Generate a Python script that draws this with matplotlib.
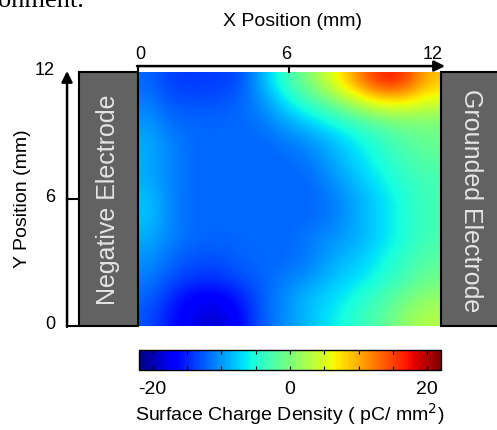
import numpy as np
import matplotlib.pyplot as plt
from matplotlib.patches import Rectangle

plt.rcParams['font.family'] = ['Liberation Sans', 'DejaVu Sans']

# surface charge density (pC/mm^2), rows from y=12 (top) down to y=0, cols x=0..12
charge = np.array([
    [-12, -14, -14, -14, -13,  -8,  -3,   1,   6,  12,  17,  16,   9],
    [-11, -13, -13, -13, -12, -10,  -6,  -3,   0,   4,   7,   7,   5],
    [-10, -12, -12, -12, -12, -11,  -9,  -7,  -5,  -3,  -1,   0,   0],
    [ -9, -11, -12, -12, -12, -12, -11, -10,  -8,  -6,  -4,  -2,  -1],
    [ -9, -11, -12, -12, -12, -12, -12, -11,  -9,  -7,  -5,  -3,  -2],
    [ -9, -11, -12, -12, -12, -12, -12, -12, -10,  -8,  -6,  -4,  -3],
    [ -8, -11, -12, -12, -12, -12, -12, -12, -11,  -9,  -7,  -5,  -3],
    [ -8, -11, -12, -12, -12, -12, -12, -12, -11,  -9,  -7,  -5,  -3],
    [ -9, -11, -12, -12, -12, -12, -12, -11, -10,  -9,  -7,  -5,  -3],
    [-10, -12, -13, -13, -12, -12, -12, -11,  -9,  -8,  -6,  -4,  -2],
    [-11, -13, -14, -14, -13, -12, -11, -10,  -8,  -7,  -5,  -3,  -1],
    [-12, -15, -17, -17, -15, -12, -10,  -8,  -7,  -5,  -3,  -1,   1],
    [-13, -16, -18, -19, -16, -12, -10,  -8,  -6,  -4,  -2,   1,   3],
])
x_ticks = [0, 6, 12]
y_ticks = [0, 6, 12]
cbar_ticks = [-20, -15, -10, -5, 0, 5, 10, 15, 20]
cbar_labels = ['-20', '', '', '', '0', '', '', '', '20']
vmin, vmax = -22, 22

fig = plt.figure(figsize=(4.97, 4.30), dpi=100)
ax = fig.add_axes([138/497, 104/430, 302/497, 254/430])
im = ax.imshow(charge, cmap='jet', vmin=vmin, vmax=vmax, extent=(0, 12, 0, 12),
               aspect='auto', interpolation='bicubic', origin='upper')
ax.set_xlim(0, 12)
ax.set_ylim(0, 12)
ax.axis('off')

# electrodes
ax.add_patch(Rectangle((-2.34, 0), 2.34, 12, facecolor='#626262', edgecolor='k',
                       lw=1.5, clip_on=False, zorder=3))
ax.add_patch(Rectangle((12.04, 0), 2.6, 12, facecolor='#626262', edgecolor='k',
                       lw=1.5, clip_on=False, zorder=3))
ax.text(-1.2, 5.95, 'Negative Electrode', rotation=90, color='#e4e4e4', fontsize=18,
        ha='center', va='center', zorder=4)
ax.text(13.25, 5.9, 'Grounded Electrode', rotation=-90, color='#e4e4e4', fontsize=18,
        ha='center', va='center', zorder=4)

# top x axis arrow
ytop = 12.28
ax.annotate('', xy=(12.2, ytop), xytext=(-0.04, ytop), annotation_clip=False,
            arrowprops=dict(arrowstyle='-|>', color='k', lw=1.8, mutation_scale=16,
                            shrinkA=0, shrinkB=0))
for t in x_ticks[:-1]:
    ax.plot([t, t], [ytop, 12.0], color='k', lw=1.5, clip_on=False)
for t in x_ticks:
    ax.text(t + 0.08 - 0.03 * t, 12.85, str(t), ha='center', va='center', fontsize=13)
ax.text(6.15, 14.38, 'X Position (mm)', ha='center', va='center', fontsize=14)

# left y axis arrow
xl = -2.82
ax.annotate('', xy=(xl, 12.05), xytext=(xl, -0.04), annotation_clip=False,
            arrowprops=dict(arrowstyle='-|>', color='k', lw=1.8, mutation_scale=16,
                            shrinkA=0, shrinkB=0))
for t in y_ticks[:-1]:
    ax.plot([xl, xl + 0.4], [t, t], color='k', lw=1.5, clip_on=False)
for t in y_ticks:
    ax.text(-3.3, t + 0.05, str(t), ha='right', va='center', fontsize=13)
ax.text(-4.6, 6.0, 'Y Position (mm)', rotation=90, ha='center', va='center', fontsize=14)

# colorbar
cax = fig.add_axes([139/497, 60/430, 302/497, 20/430])
cb = fig.colorbar(im, cax=cax, orientation='horizontal', ticks=cbar_ticks)
cb.ax.set_xticklabels(cbar_labels)
cb.ax.tick_params(direction='in', length=3, width=0.8, top=True, bottom=True,
                  labelsize=14, pad=8)
cb.outline.set_linewidth(1.0)
cb.set_label('Surface Charge Density ( pC/ mm$^2$)', fontsize=14, labelpad=2)

# caption fragment cut off at the top
fig.text(-0.004, 1 - 7/430, 'onment.', family='Liberation Serif', fontsize=19,
         ha='left', va='baseline')

fig.savefig('out.png', dpi=100)
